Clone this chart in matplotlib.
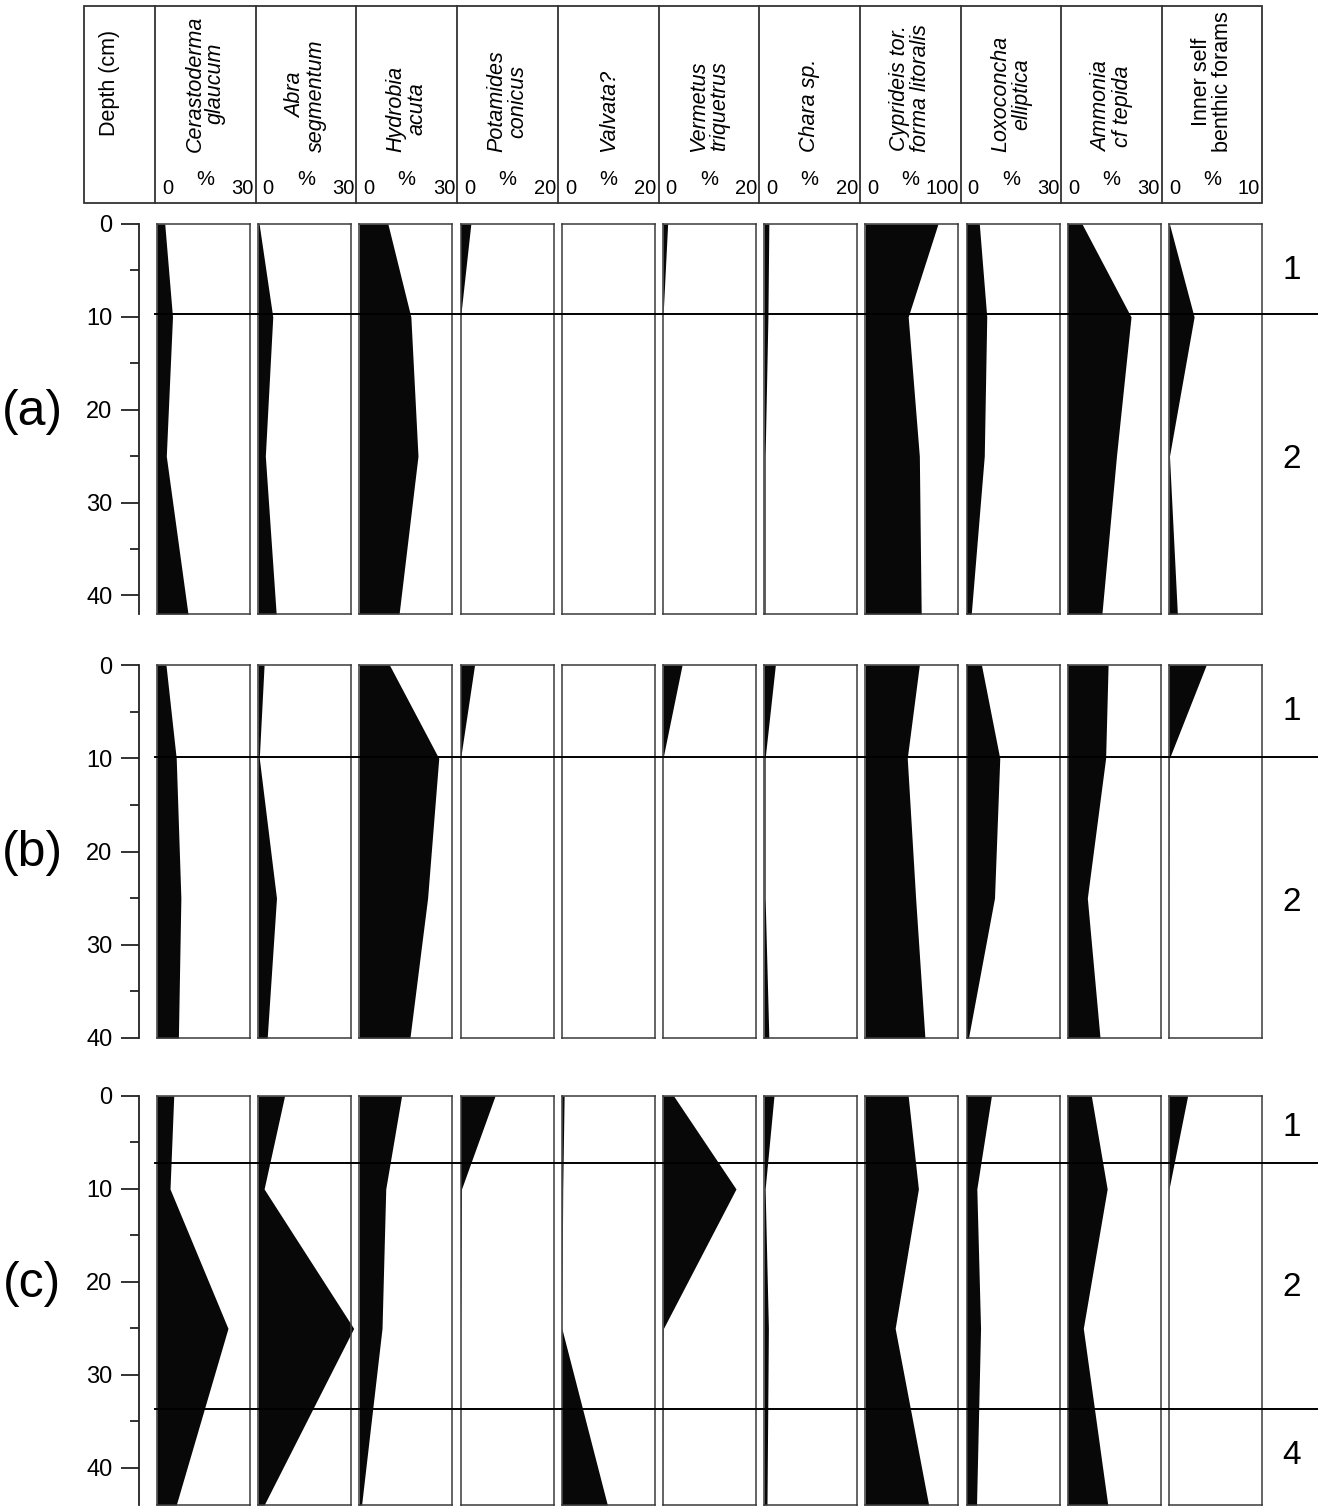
import matplotlib
matplotlib.use("Agg")
import matplotlib.pyplot as plt
from matplotlib.transforms import blended_transform_factory
from matplotlib.patches import Rectangle
from matplotlib.ticker import MultipleLocator

plt.rcParams['font.family'] = ['Liberation Sans', 'DejaVu Sans']

# ---------------- data ----------------
species = ["Cerastoderma\nglaucum", "Abra\nsegmentum", "Hydrobia\nacuta",
           "Potamides\nconicus", "Valvata?", "Vermetus\ntriquetrus", "Chara sp.",
           "Cyprideis tor.\nforma litoralis", "Loxoconcha\nelliptica",
           "Ammonia\ncf tepida", "Inner self\nbenthic forams"]
species_italic = [True, True, True, True, True, True, True, True, True, True, False]
scale_max = [30, 30, 30, 20, 20, 20, 20, 100, 30, 30, 10]
scale_max_labels = ["30", "30", "30", "20", "20", "20", "20", "100", "30", "30", "10"]

core_labels = ["(a)", "(b)", "(c)"]

depth_a = [0, 10, 25, 42]
depth_b = [0, 10, 25, 40]
depth_c = [0, 10, 25, 44]

# percentages per species (order as in `species`), at the depths above
core_a = [
    [2.5, 5.0, 3.0, 10.0],
    [0.3, 4.7, 2.3, 5.8],
    [9.2, 16.6, 18.9, 12.8],
    [2.2, 0.0, 0.0, 0.0],
    [0.0, 0.0, 0.0, 0.0],
    [1.0, 0.0, 0.0, 0.0],
    [1.0, 0.8, 0.2, 0.2],
    [78, 46, 58, 60],
    [4.1, 6.5, 5.7, 1.5],
    [4.6, 20.4, 15.7, 11.0],
    [0.05, 2.7, 0.05, 0.9],
]
core_b = [
    [2.9, 6.2, 7.7, 6.9],
    [1.9, 0.35, 5.9, 2.9],
    [9.7, 25.6, 22.0, 16.3],
    [3.0, 0.0, 0.0, 0.0],
    [0.0, 0.0, 0.0, 0.0],
    [4.1, 0.0, 0.0, 0.0],
    [2.4, 0.2, 0.2, 1.0],
    [58, 45, 54, 64],
    [4.8, 10.7, 9.0, 0.6],
    [13.0, 12.2, 6.3, 10.4],
    [4.0, 0.05, 0.0, 0.0],
]
core_c = [
    [5.4, 4.2, 22.9, 6.2],
    [8.5, 1.9, 30.8, 1.9],
    [13.6, 8.5, 7.3, 0.7],
    [7.4, 0.2, 0.0, 0.0],
    [0.5, 0.2, 0.0, 9.8],
    [2.3, 15.7, 0.1, 0.0],
    [2.1, 0.2, 0.9, 0.6],
    [46, 57, 32, 68],
    [8.0, 3.3, 4.5, 3.2],
    [7.6, 12.7, 5.0, 12.9],
    [2.0, 0.0, 0.0, 0.0],
]

# zone boundaries and zone labels (depth, label)
bounds_a = [9.7]
bounds_b = [9.85]
bounds_c = [7.2, 33.7]
zones_a = [(5.0, "1"), (25.4, "2")]
zones_b = [(5.0, "1"), (25.5, "2")]
zones_c = [(3.4, "1"), (20.6, "2"), (38.7, "4")]

cores = [
    (depth_a, core_a, bounds_a, zones_a),
    (depth_b, core_b, bounds_b, zones_b),
    (depth_c, core_c, bounds_c, zones_c),
]

# ---------------- layout (pixels) ----------------
W, H = 1318, 1509
fig = plt.figure(figsize=(W / 100, H / 100), dpi=100)

row_top = [224, 665, 1096]        # pixel y of depth 0 per row
row_bottom = [614, 1038, 1505]    # pixel y of max depth per row
panel_left0, panel_step, panel_w = 157, 101.2, 93
axis_x = 139
hdr_left, hdr_right, hdr_top, hdr_bot = 84, 1262, 6, 203
div0, div_step = 155, 100.7
fill_col = "#080808"
edge_col = "#3a3a3a"


def fig_rect(x0, y0, x1, y1):
    return [x0 / W, 1 - y1 / H, (x1 - x0) / W, (y1 - y0) / H]


# overlay axes in pixel coordinates for the header and boundary lines
ov = fig.add_axes([0, 0, 1, 1], zorder=5)
ov.set_xlim(0, W)
ov.set_ylim(H, 0)
ov.axis("off")
ov.patch.set_alpha(0)

ov.add_patch(Rectangle((hdr_left, hdr_top), hdr_right - hdr_left, hdr_bot - hdr_top,
                       fill=False, ec="#333333", lw=1.3))
ov.text(110, 136, "Depth (cm)", rotation=90, ha="center", va="bottom", fontsize=15.5)
for i, name in enumerate(species):
    x0 = div0 + i * div_step
    x1 = div0 + (i + 1) * div_step if i < len(species) - 1 else hdr_right
    ov.plot([x0, x0], [hdr_top, hdr_bot], color="#333333", lw=1.3)
    xc = (x0 + x1) / 2
    ov.text(xc, 152, name, rotation=90, ha="center", va="bottom", fontsize=15.5,
            style="italic" if species_italic[i] else "normal",
            multialignment="center", linespacing=1.0)
    ov.text(x0 + 7, 194, "0", ha="left", va="baseline", fontsize=14.5)
    ov.text(xc, 185, "%", ha="center", va="baseline", fontsize=14.5)
    ov.text(x1 - 2, 194, scale_max_labels[i], ha="right", va="baseline", fontsize=14.5)

# ---------------- rows ----------------
for r, (depths, values, bounds, zones) in enumerate(cores):
    dmax = depths[-1]
    yt, yb = row_top[r], row_bottom[r]

    # depth axis
    dax = fig.add_axes(fig_rect(axis_x, yt, axis_x + 1, yb))
    dax.set_ylim(dmax, 0)
    dax.set_xlim(0, 1)
    for s in ["top", "right", "bottom"]:
        dax.spines[s].set_visible(False)
    dax.spines["left"].set_linewidth(1.3)
    dax.spines["left"].set_color("#222222")
    dax.patch.set_alpha(0)
    dax.xaxis.set_visible(False)
    dax.yaxis.set_major_locator(MultipleLocator(10))
    dax.yaxis.set_minor_locator(MultipleLocator(5))
    dax.tick_params(axis="y", which="major", length=13, width=1.3, pad=6,
                    labelsize=17, color="#222222")
    dax.tick_params(axis="y", which="minor", length=6.5, width=1.3, color="#222222")

    first_ax = None
    for i in range(len(species)):
        x0 = panel_left0 + i * panel_step
        ax = fig.add_axes(fig_rect(x0, yt, x0 + panel_w, yb))
        ax.set_xlim(0, scale_max[i])
        ax.set_ylim(dmax, 0)
        ax.fill_betweenx(depths, 0, values[i], color=fill_col, lw=0, clip_on=False)
        ax.set_xticks([])
        ax.set_yticks([])
        for s in ax.spines.values():
            s.set_linewidth(1.1)
            s.set_color(edge_col)
        if first_ax is None:
            first_ax = ax

    tr = blended_transform_factory(fig.transFigure, first_ax.transData)
    for b in bounds:
        ov.plot([155 / W, 1.0], [b, b], transform=tr, color="black",
                lw=1.4, clip_on=False, zorder=10)
    for d, lab in zones:
        ov.text(1292 / W, d, lab, transform=tr, ha="center", va="center",
                fontsize=24)
    ov.text(32 / W, 20.2, core_labels[r], transform=tr, ha="center",
            va="center", fontsize=36)

fig.savefig("out.png", dpi=100)
